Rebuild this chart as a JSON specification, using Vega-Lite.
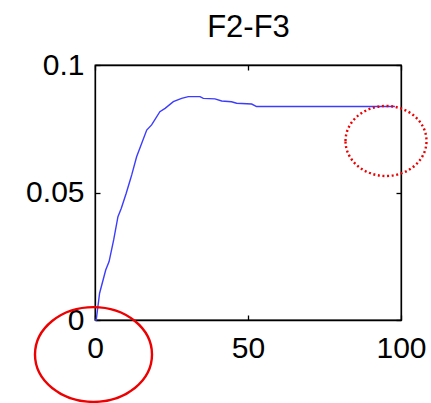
{
  "$schema": "https://vega.github.io/schema/vega-lite/v6.json",
  "width": 306,
  "height": 255,
  "autosize": {"type": "none"},
  "padding": {"left": 95, "top": 65, "right": 30, "bottom": 83},
  "background": "white",
  "config": {
    "view": {"stroke": "black", "strokeWidth": 1.3},
    "axis": {
      "grid": false,
      "domainColor": "black",
      "domainWidth": 1.3,
      "tickColor": "black",
      "tickWidth": 1.3,
      "tickSize": -5,
      "labelFont": "Liberation Sans",
      "labelFontSize": 30,
      "labelColor": "black",
      "titleFont": "Liberation Sans",
      "titleFontSize": 31,
      "titleFontWeight": "normal",
      "titleColor": "black"
    }
  },
  "datasets": {
    "curve": [
      {"x": 0, "y": 0},
      {"x": 0.4, "y": 0.0},
      {"x": 1.5, "y": 0.0105},
      {"x": 3.5, "y": 0.0196},
      {"x": 4.6, "y": 0.0229},
      {"x": 6.1, "y": 0.0314},
      {"x": 7.5, "y": 0.0405},
      {"x": 8.6, "y": 0.0438},
      {"x": 10.2, "y": 0.0497},
      {"x": 11.5, "y": 0.0549},
      {"x": 12.0, "y": 0.0569},
      {"x": 13.6, "y": 0.064},
      {"x": 16.9, "y": 0.0745},
      {"x": 18.5, "y": 0.0765},
      {"x": 21.2, "y": 0.0817},
      {"x": 22.9, "y": 0.083},
      {"x": 25.6, "y": 0.0856},
      {"x": 28.3, "y": 0.0869},
      {"x": 30.5, "y": 0.0876},
      {"x": 34.3, "y": 0.0876},
      {"x": 35.4, "y": 0.0869},
      {"x": 39.2, "y": 0.0867},
      {"x": 41.4, "y": 0.0859},
      {"x": 44.6, "y": 0.0856},
      {"x": 46.3, "y": 0.085},
      {"x": 51.2, "y": 0.0847},
      {"x": 52.8, "y": 0.0837},
      {"x": 98, "y": 0.0837}
    ],
    "solidMark": [{"x": -0.49, "y": -0.01353}],
    "dottedMark": [{"x": 95.1, "y": 0.0702}]
  },
  "layer": [
    {
      "data": {"name": "curve"},
      "mark": {"type": "line", "color": "#3c3cff", "strokeWidth": 1.4},
      "encoding": {
        "x": {"field": "x", "type": "quantitative", "scale": {"domain": [0, 100], "nice": false},
              "axis": {"orient": "bottom", "title": null, "values": [0, 50, 100], "labelPadding": 18, "labelFlush": false}},
        "y": {"field": "y", "type": "quantitative", "scale": {"domain": [0, 0.1], "nice": false},
              "axis": {"orient": "left", "title": null, "values": [0, 0.05, 0.1], "labelPadding": 16, "labelFlush": false, "format": "~g"}}
      }
    },
    {
      "data": {"name": "curve"},
      "mark": {"type": "line", "strokeOpacity": 0},
      "encoding": {
        "x": {"field": "x", "type": "quantitative",
              "axis": {"orient": "top", "title": "F2-F3", "titlePadding": 21, "titleBaseline": "bottom", "values": [0, 50, 100], "labels": false}},
        "y": {"field": "y", "type": "quantitative",
              "axis": {"orient": "right", "title": null, "values": [0, 0.05, 0.1], "labels": false}}
      }
    },
    {
      "data": {"name": "solidMark"},
      "mark": {
        "type": "point",
        "shape": "M -1 0 C -1 -0.447 -0.552 -0.81 0 -0.81 C 0.552 -0.81 1 -0.447 1 0 C 1 0.447 0.552 0.81 0 0.81 C -0.552 0.81 -1 0.447 -1 0 Z",
        "size": 13689,
        "filled": false,
        "stroke": "#ee0000",
        "strokeWidth": 2.4,
        "opacity": 1,
        "clip": false
      },
      "encoding": {
        "x": {"field": "x", "type": "quantitative", "axis": null},
        "y": {"field": "y", "type": "quantitative", "axis": null}
      }
    },
    {
      "data": {"name": "dottedMark"},
      "mark": {
        "type": "point",
        "shape": "M -1 0 C -1 -0.477 -0.552 -0.864 0 -0.864 C 0.552 -0.864 1 -0.477 1 0 C 1 0.477 0.552 0.864 0 0.864 C -0.552 0.864 -1 0.477 -1 0 Z",
        "size": 6561,
        "filled": false,
        "stroke": "#ee0000",
        "strokeWidth": 2.4,
        "strokeDash": [2, 2.6],
        "opacity": 1,
        "clip": false
      },
      "encoding": {
        "x": {"field": "x", "type": "quantitative", "axis": null},
        "y": {"field": "y", "type": "quantitative", "axis": null}
      }
    }
  ],
  "resolve": {"axis": {"x": "independent", "y": "independent"}}
}
